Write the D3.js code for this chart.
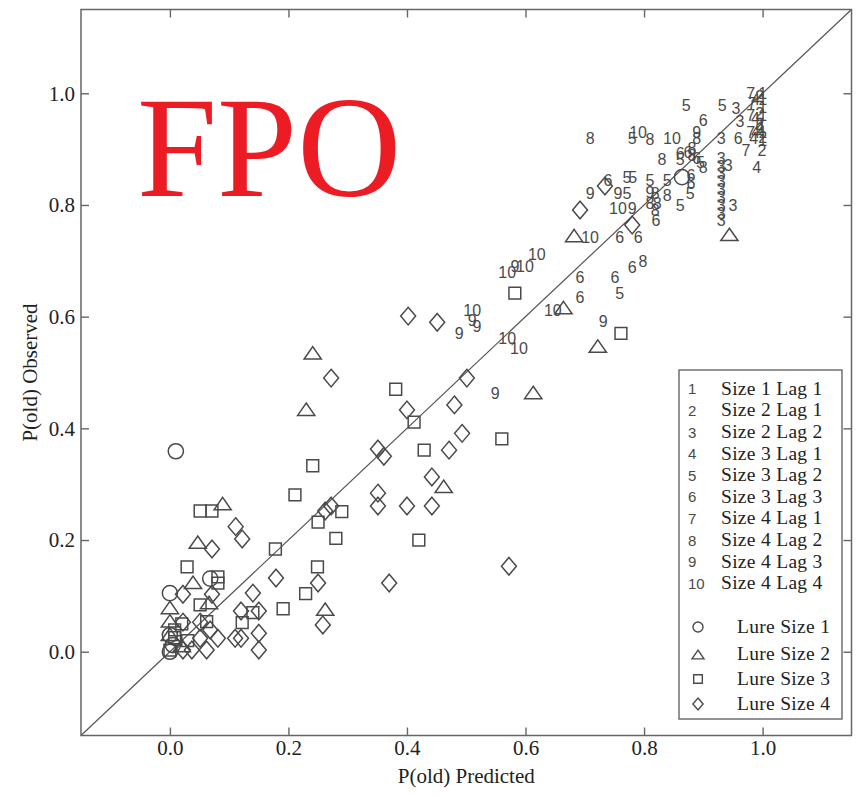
<!DOCTYPE html>
<html>
<head>
<meta charset="utf-8">
<script src="https://cdn.jsdelivr.net/npm/d3@7"></script>
<style>
  html, body { margin: 0; padding: 0; background: #fff; }
  svg { display: block; }
</style>
</head>
<body>
<svg id="chart" width="862" height="798"></svg>
<script>
// Target conditions (numbered markers): [P(old) predicted, P(old) observed]
const size1Lag1 = [[1.0,1.0],[1.0,0.99],[1.0,0.975],[1.0,0.96],[0.998,0.94],[1.0,0.93],[1.0,0.915]];
const size2Lag1 = [[0.995,0.995],[0.995,0.965],[0.995,0.945],[1.0,0.922],[0.999,0.898],[0.995,0.935]];
const size2Lag2 = [[0.955,0.974],[0.962,0.950],[0.930,0.920],[0.930,0.884],[0.930,0.870],[0.930,0.856],[0.930,0.842],
                   [0.930,0.828],[0.930,0.814],[0.930,0.800],[0.930,0.786],[0.930,0.772],[0.942,0.872],[0.950,0.800]];
const size3Lag1 = [[0.988,0.99],[0.988,0.955],[0.988,0.93],[0.99,0.868],[0.985,0.92]];
const size3Lag2 = [[0.871,0.979],[0.932,0.979],[0.780,0.920],[0.771,0.850],[0.781,0.850],[0.810,0.845],[0.839,0.845],
                   [0.771,0.821],[0.878,0.821],[0.861,0.800],[0.861,0.881],[0.759,0.642],[0.895,0.877]];
const size3Lag3 = [[0.900,0.952],[0.959,0.920],[0.861,0.893],[0.874,0.895],[0.739,0.845],[0.879,0.854],[0.879,0.839],
                   [0.820,0.773],[0.889,0.884],[0.759,0.743],[0.790,0.743],[0.780,0.689],[0.692,0.671],[0.751,0.671],[0.692,0.634]];
const size4Lag1 = [[0.98,1.0],[0.982,0.983],[0.98,0.96],[0.98,0.93],[0.972,0.898]];
const size4Lag2 = [[0.709,0.920],[0.810,0.918],[0.889,0.920],[0.881,0.902],[0.830,0.881],[0.881,0.889],[0.819,0.821],
                   [0.839,0.818],[0.810,0.803],[0.822,0.803],[0.819,0.791],[0.900,0.868],[0.798,0.700]];
const size4Lag3 = [[0.889,0.931],[0.709,0.821],[0.756,0.821],[0.810,0.823],[0.780,0.794],[0.582,0.691],[0.510,0.594],
                   [0.518,0.582],[0.488,0.571],[0.731,0.591],[0.549,0.463]];
const size4Lag4 = [[0.790,0.931],[0.847,0.920],[0.756,0.794],[0.709,0.743],[0.569,0.680],[0.599,0.691],[0.619,0.711],
                   [0.510,0.612],[0.569,0.562],[0.589,0.544],[0.646,0.612]];

// Lure conditions (shape markers)
const lureSize1 = [[0.010,0.359],[0.864,0.850],[0.0,0.105],[0.068,0.131],[0.0,0.03],[0.0,0.0],[0.005,0.012]];
const lureSize2 = [[0.241,0.534],[0.230,0.433],[0.089,0.264],[0.944,0.746],[0.682,0.744],[0.664,0.615],[0.722,0.546],
                   [0.613,0.463],[0.462,0.295],[0.262,0.075],[0.047,0.195],[0.039,0.123],[0.0,0.078],[0.0,0.054],
                   [0.0,0.03],[0.066,0.087],[0.02,0.01]];
const lureSize3 = [[0.582,0.642],[0.381,0.470],[0.412,0.411],[0.429,0.361],[0.560,0.381],[0.241,0.333],[0.761,0.570],
                   [0.211,0.281],[0.290,0.251],[0.250,0.232],[0.280,0.203],[0.178,0.184],[0.249,0.152],[0.229,0.104],
                   [0.191,0.077],[0.42,0.20],[0.029,0.152],[0.081,0.134],[0.081,0.123],[0.051,0.084],[0.062,0.054],
                   [0.008,0.039],[0.008,0.025],[0.0,0.003],[0.051,0.252],[0.071,0.252],[0.122,0.052],[0.14,0.07],
                   [0.02,0.05],[0.03,0.02]];
const lureSize4 = [[0.402,0.601],[0.451,0.590],[0.272,0.490],[0.501,0.490],[0.734,0.834],[0.692,0.791],[0.780,0.764],
                   [0.480,0.442],[0.400,0.433],[0.493,0.391],[0.471,0.361],[0.351,0.363],[0.361,0.350],[0.442,0.313],
                   [0.351,0.284],[0.351,0.261],[0.400,0.261],[0.442,0.261],[0.272,0.261],[0.262,0.252],[0.111,0.224],
                   [0.122,0.202],[0.179,0.132],[0.250,0.123],[0.140,0.105],[0.572,0.153],[0.370,0.123],[0.258,0.048],
                   [0.071,0.184],[0.022,0.103],[0.071,0.103],[0.120,0.073],[0.150,0.073],[0.022,0.053],[0.051,0.053],
                   [0.081,0.024],[0.051,0.024],[0.110,0.024],[0.120,0.024],[0.150,0.033],[0.150,0.003],[0.022,0.003],
                   [0.037,0.003],[0.062,0.003],[0.068,0.039]];

const targetLabels = ["Size 1 Lag 1","Size 2 Lag 1","Size 2 Lag 2","Size 3 Lag 1","Size 3 Lag 2",
                      "Size 3 Lag 3","Size 4 Lag 1","Size 4 Lag 2","Size 4 Lag 3","Size 4 Lag 4"];
const lureLabels = ["Lure Size 1","Lure Size 2","Lure Size 3","Lure Size 4"];
const tickValues = [0, 0.2, 0.4, 0.6, 0.8, 1.0];
const axisDomain = [-0.15, 1.15];

const targetSeries = [size1Lag1,size2Lag1,size2Lag2,size3Lag1,size3Lag2,size3Lag3,size4Lag1,size4Lag2,size4Lag3,size4Lag4];
const lureSeries = [lureSize1,lureSize2,lureSize3,lureSize4];

const svg = d3.select("#chart");
const plotLeft = 81, plotRight = 851.5, plotTop = 9.5, plotBottom = 735.5;
const x = d3.scaleLinear().domain(axisDomain).range([plotLeft, plotRight]);
const y = d3.scaleLinear().domain(axisDomain).range([plotBottom, plotTop]);

const ink = "#4a4a4a";
const serif = "'Liberation Serif', 'Times New Roman', serif";
const sans = "'Liberation Sans', Arial, sans-serif";

// Red overlay text
svg.append("text")
  .attr("x", 137).attr("y", 196)
  .attr("font-family", serif).attr("font-size", 144)
  .attr("fill", "#ec1c24")
  .text("FPO");

// Identity line
svg.append("line")
  .attr("x1", x(axisDomain[0])).attr("y1", y(axisDomain[0]))
  .attr("x2", x(axisDomain[1])).attr("y2", y(axisDomain[1]))
  .attr("stroke", "#555").attr("stroke-width", 1.2);

// Axes on all four sides, ticks pointing inward
function styleAxis(g) {
  g.select(".domain").remove();
  g.selectAll(".tick line").attr("stroke", "#666").attr("stroke-width", 1.4);
  g.selectAll(".tick text").attr("font-family", serif).attr("font-size", 21).attr("fill", "#222");
}
const fmt = d3.format(".1f");
svg.append("g").attr("transform", `translate(0,${plotBottom})`)
  .call(d3.axisBottom(x).tickValues(tickValues).tickFormat(fmt).tickSizeInner(-8).tickSizeOuter(0).tickPadding(5))
  .call(styleAxis);
svg.append("g").attr("transform", `translate(0,${plotTop})`)
  .call(d3.axisTop(x).tickValues(tickValues).tickFormat("").tickSizeInner(-8).tickSizeOuter(0))
  .call(styleAxis);
svg.append("g").attr("transform", `translate(${plotLeft},0)`)
  .call(d3.axisLeft(y).tickValues(tickValues).tickFormat(fmt).tickSizeInner(-8).tickSizeOuter(0).tickPadding(6))
  .call(styleAxis);
svg.append("g").attr("transform", `translate(${plotRight},0)`)
  .call(d3.axisRight(y).tickValues(tickValues).tickFormat("").tickSizeInner(-8).tickSizeOuter(0))
  .call(styleAxis);

svg.append("rect")
  .attr("x", plotLeft).attr("y", plotTop).attr("width", plotRight - plotLeft).attr("height", plotBottom - plotTop)
  .attr("fill", "none").attr("stroke", "#666").attr("stroke-width", 1.5);

// Axis titles
svg.append("text")
  .attr("x", (plotLeft + plotRight) / 2).attr("y", 783)
  .attr("text-anchor", "middle").attr("font-family", serif).attr("font-size", 21).attr("fill", "#222")
  .text("P(old) Predicted");
svg.append("text")
  .attr("transform", `translate(37,${(plotTop + plotBottom) / 2}) rotate(-90)`)
  .attr("text-anchor", "middle").attr("font-family", serif).attr("font-size", 21).attr("fill", "#222")
  .text("P(old) Observed");

// Outline shapes for lures: circle, triangle, square, diamond
function shapePath(i, s) {
  if (i === 0) return d3.symbol(d3.symbolCircle, Math.PI * s * s)();
  if (i === 1) { const h = s * 0.8; return `M0,${-h}L${s},${h * 0.8}L${-s},${h * 0.8}Z`; }
  if (i === 2) return `M${-s*0.72},${-s*0.72}H${s*0.72}V${s*0.72}H${-s*0.72}Z`;
  return `M0,${-s}L${s*0.85},0L0,${s}L${-s*0.85},0Z`;
}
const markerSize = [7.6, 8.6, 8.2, 8.8];
const plot = svg.append("g");

lureSeries.forEach((pts, i) => {
  plot.append("g").selectAll("path").data(pts).join("path")
    .attr("transform", d => `translate(${x(d[0])},${y(d[1])})`)
    .attr("d", shapePath(i, markerSize[i]))
    .attr("fill", "none").attr("stroke", ink).attr("stroke-width", 1.5);
});

targetSeries.forEach((pts, i) => {
  plot.append("g").selectAll("text").data(pts).join("text")
    .attr("x", d => x(d[0])).attr("y", d => y(d[1]))
    .attr("dy", "0.36em")
    .attr("text-anchor", "middle")
    .attr("font-family", sans).attr("font-size", 16).attr("fill", ink)
    .text(i + 1);
});

// Legend
const lg = svg.append("g");
lg.append("rect").attr("x", 679).attr("y", 370).attr("width", 163).attr("height", 349)
  .attr("fill", "#fff").attr("stroke", "#666").attr("stroke-width", 1.4);
targetLabels.forEach((label, i) => {
  const cy = 389 + i * 21.6;
  lg.append("text").attr("x", 688).attr("y", cy).attr("dy", "0.36em")
    .attr("font-family", sans).attr("font-size", 15).attr("fill", ink).text(i + 1);
  lg.append("text").attr("x", 721).attr("y", cy).attr("dy", "0.3em")
    .attr("font-family", serif).attr("font-size", 19.5).attr("letter-spacing", 0.3).attr("fill", "#222").text(label);
});
const lureRows = [627, 654, 679, 704];
lureLabels.forEach((label, i) => {
  lg.append("path").attr("transform", `translate(698,${lureRows[i] + (i === 1 ? 1 : 0)})`)
    .attr("d", shapePath(i, i === 0 ? 5 : 6))
    .attr("fill", "none").attr("stroke", ink).attr("stroke-width", 1.4);
  lg.append("text").attr("x", 737).attr("y", lureRows[i]).attr("dy", "0.3em")
    .attr("font-family", serif).attr("font-size", 19.5).attr("letter-spacing", 0.3).attr("fill", "#222").text(label);
});
</script>
</body>
</html>
